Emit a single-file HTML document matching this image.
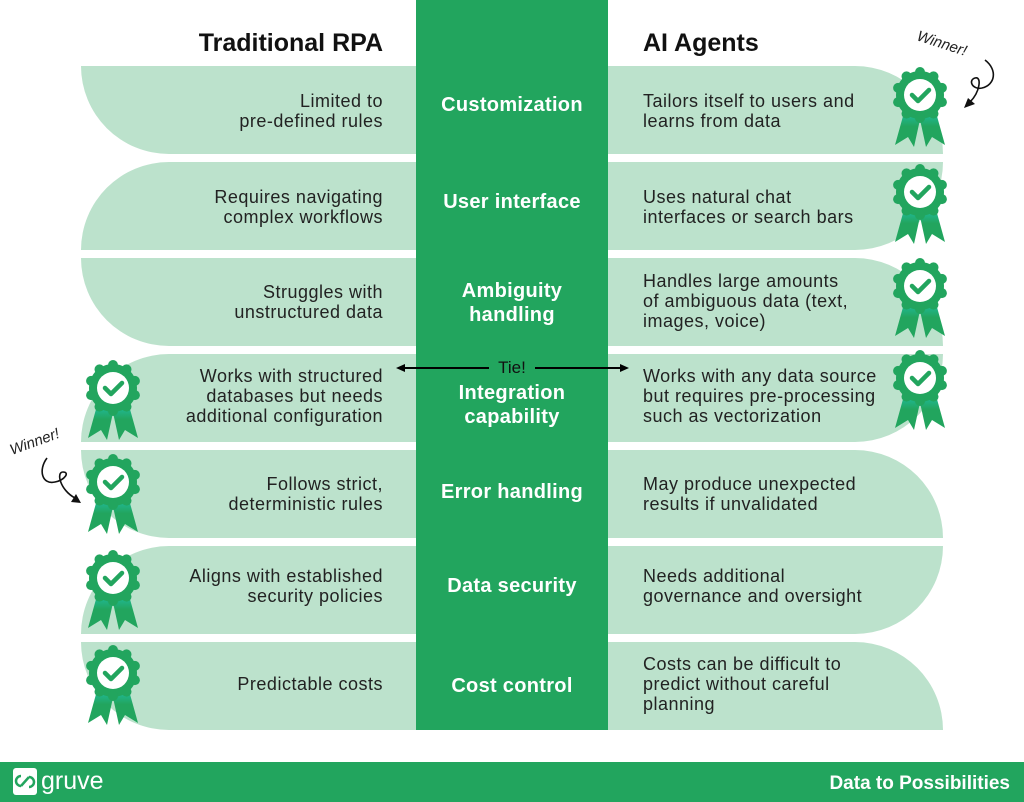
<!DOCTYPE html>
<html><head><meta charset="utf-8"><style>
html,body{margin:0;padding:0;background:#fff;}
svg{display:block}
text{font-family:"Liberation Sans",sans-serif;}
.t{font-size:18px;fill:#222;letter-spacing:0.5px;}
.c{font-size:20px;font-weight:bold;fill:#fff;text-anchor:middle;letter-spacing:0.3px;}
.h{font-size:25px;font-weight:bold;fill:#111;}
</style></head><body>
<svg width="1024" height="802" viewBox="0 0 1024 802" xmlns="http://www.w3.org/2000/svg">
<defs>
<linearGradient id="rg" gradientUnits="userSpaceOnUse" x1="0" y1="16" x2="0" y2="50">
<stop offset="0" stop-color="#1fbfa5"/><stop offset="0.45" stop-color="#22a55e"/><stop offset="1" stop-color="#22a55e"/></linearGradient>
<g id="badge">
<polygon points="-15,14 1,20 -6,52 -12,42 -25,50" fill="url(#rg)"/>
<polygon points="15,14 -1,20 6,52 12,42 25,50" fill="url(#rg)"/>
<circle r="24" fill="#22a55e"/>
<circle cx="0" cy="-23" r="5" fill="#22a55e"/><circle cx="13.5" cy="-18.6" r="5" fill="#22a55e"/><circle cx="21.9" cy="-7.1" r="5" fill="#22a55e"/><circle cx="21.9" cy="7.1" r="5" fill="#22a55e"/><circle cx="13.5" cy="18.6" r="5" fill="#22a55e"/><circle cx="0" cy="23" r="5" fill="#22a55e"/><circle cx="-13.5" cy="18.6" r="5" fill="#22a55e"/><circle cx="-21.9" cy="7.1" r="5" fill="#22a55e"/><circle cx="-21.9" cy="-7.1" r="5" fill="#22a55e"/><circle cx="-13.5" cy="-18.6" r="5" fill="#22a55e"/>
<circle r="16" fill="#fff"/>
<path d="M-8,0 L-2,6 L9,-5" stroke="#22a55e" stroke-width="4.5" fill="none" stroke-linecap="round" stroke-linejoin="round"/>
</g>
</defs>
<rect x="416" y="0" width="192" height="730" fill="#22a55e"/>
<g fill="#bce2cc">
<path d="M81,66 H416 V154 H169 A88 88 0 0 1 81 66 Z"/>
<path d="M169,162 H416 V250 H81 A88 88 0 0 1 169 162 Z"/>
<path d="M81,258 H416 V346 H169 A88 88 0 0 1 81 258 Z"/>
<path d="M169,354 H416 V442 H81 A88 88 0 0 1 169 354 Z"/>
<path d="M81,450 H416 V538 H169 A88 88 0 0 1 81 450 Z"/>
<path d="M169,546 H416 V634 H81 A88 88 0 0 1 169 546 Z"/>
<path d="M81,642 H416 V730 H169 A88 88 0 0 1 81 642 Z"/>
<path d="M608,66 H855 A88 88 0 0 1 943 154 H608 Z"/>
<path d="M608,162 H943 A88 88 0 0 1 855 250 H608 Z"/>
<path d="M608,258 H855 A88 88 0 0 1 943 346 H608 Z"/>
<path d="M608,354 H943 A88 88 0 0 1 855 442 H608 Z"/>
<path d="M608,450 H855 A88 88 0 0 1 943 538 H608 Z"/>
<path d="M608,546 H943 A88 88 0 0 1 855 634 H608 Z"/>
<path d="M608,642 H855 A88 88 0 0 1 943 730 H608 Z"/>
</g>
<text class="h" x="383" y="51" text-anchor="end">Traditional RPA</text>
<text class="h" x="643" y="51">AI Agents</text>

<g class="t" text-anchor="end">
<text x="383" y="107">Limited to</text><text x="383" y="127">pre-defined rules</text>
<text x="383" y="203">Requires navigating</text><text x="383" y="223">complex workflows</text>
<text x="383" y="298">Struggles with</text><text x="383" y="318">unstructured data</text>
<text x="383" y="382">Works with structured</text><text x="383" y="402">databases but needs</text><text x="383" y="422">additional configuration</text>
<text x="383" y="490">Follows strict,</text><text x="383" y="510">deterministic rules</text>
<text x="383" y="582">Aligns with established</text><text x="383" y="602">security policies</text>
<text x="383" y="690">Predictable costs</text>
</g>
<g class="t">
<text x="643" y="107">Tailors itself to users and</text><text x="643" y="127">learns from data</text>
<text x="643" y="203">Uses natural chat</text><text x="643" y="223">interfaces or search bars</text>
<text x="643" y="287">Handles large amounts</text><text x="643" y="307">of ambiguous data (text,</text><text x="643" y="327">images, voice)</text>
<text x="643" y="382">Works with any data source</text><text x="643" y="402">but requires pre-processing</text><text x="643" y="422">such as vectorization</text>
<text x="643" y="490">May produce unexpected</text><text x="643" y="510">results if unvalidated</text>
<text x="643" y="582">Needs additional</text><text x="643" y="602">governance and oversight</text>
<text x="643" y="670">Costs can be difficult to</text><text x="643" y="690">predict without careful</text><text x="643" y="710">planning</text>
</g>
<g class="c">
<text x="512" y="111">Customization</text>
<text x="512" y="208">User interface</text>
<text x="512" y="297">Ambiguity</text><text x="512" y="321">handling</text>
<text x="512" y="399">Integration</text><text x="512" y="423">capability</text>
<text x="512" y="498">Error handling</text>
<text x="512" y="592">Data security</text>
<text x="512" y="692">Cost control</text>
</g>
<text x="512" y="373" text-anchor="middle" style="font-size:17px;fill:#111">Tie!</text>
<g stroke="#000" stroke-width="2">
<line x1="402" y1="368" x2="489" y2="368"/><line x1="535" y1="368" x2="622" y2="368"/></g>
<polygon points="396,368 405,364 405,372" fill="#000"/>
<polygon points="629,368 620,364 620,372" fill="#000"/>

<use href="#badge" x="920" y="95"/>
<use href="#badge" x="920" y="192"/>
<use href="#badge" x="920" y="286"/>
<use href="#badge" x="920" y="378"/>
<use href="#badge" x="113" y="388"/>
<use href="#badge" x="113" y="482"/>
<use href="#badge" x="113" y="578"/>
<use href="#badge" x="113" y="673"/>

<text x="916" y="40" transform="rotate(18 916 40)" style="font-size:15px;fill:#222;font-style:italic">Winner!</text>
<path d="M985,60 C998,70 995,85 982,88 C972,90 968,80 975,78 C982,76 980,92 970,102" stroke="#111" stroke-width="1.6" fill="none"/>
<polygon points="964,108 968,98 975,104" fill="#111"/>
<text x="12" y="455" transform="rotate(-20 12 455)" style="font-size:15px;fill:#222;font-style:italic">Winner!</text>
<path d="M47,458 C38,470 42,485 55,482 C65,480 70,472 63,472 C56,472 60,490 75,498" stroke="#111" stroke-width="1.6" fill="none"/>
<polygon points="81,503 71,502 76,494" fill="#111"/>

<rect x="0" y="762" width="1024" height="40" fill="#22a55e"/>
<rect x="13" y="768" width="24" height="27" rx="3" fill="#fff"/>
<path d="M21,776 a5,5 0 1 0 0,10 M29,777 a5,5 0 1 1 0,10 M21,786 L29,777" stroke="#22a55e" stroke-width="2.5" fill="none"/>
<text x="41" y="789" style="font-size:25px;fill:#fff">gruve</text>
<text x="1010" y="789" text-anchor="end" style="font-size:19px;font-weight:bold;fill:#fff">Data to Possibilities</text>
</svg>
</body></html>
